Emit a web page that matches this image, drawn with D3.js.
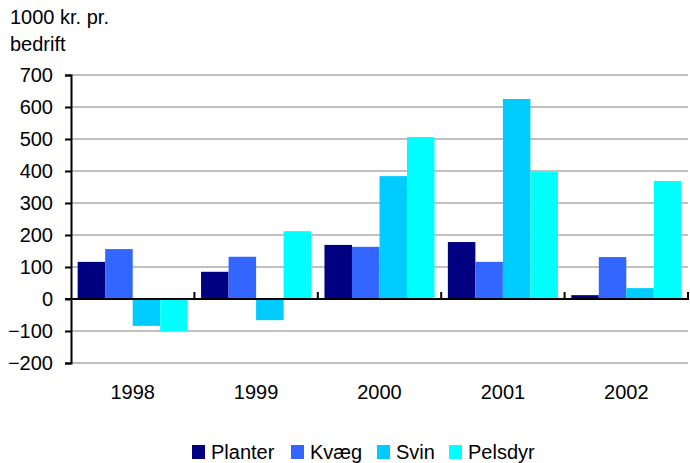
<!DOCTYPE html>
<html>
<head>
<meta charset="utf-8">
<script src="https://cdn.jsdelivr.net/npm/d3@7"></script>
<style>
  body { margin: 0; background: #fff; }
  svg { font-family: Arial, "Liberation Sans", sans-serif; }
</style>
</head>
<body>
<svg id="chart"></svg>
<script>
const width = 690;
const height = 463;

// data
const years = ["1998", "1999", "2000", "2001", "2002"];
const seriesNames = ["Planter", "Kvæg", "Svin", "Pelsdyr"];
const planter = [116, 85, 169, 178, 12];
const kvaeg = [156, 132, 163, 116, 131];
const svin = [-84, -66, 384, 625, 34];
const pelsdyr = [-100, 212, 506, 397, 369];
const yTicks = [700, 600, 500, 400, 300, 200, 100, 0, -100, -200];

const colors = ["#000080", "#3366ff", "#00ccff", "#00ffff"];
const values = [planter, kvaeg, svin, pelsdyr];

const margin = {top: 75, right: 2, bottom: 100, left: 71};
const fontSize = 20;

const svg = d3.select("#chart")
  .attr("width", width)
  .attr("height", height);

const x = d3.scaleBand()
  .domain(years)
  .range([margin.left, 688])
  .paddingInner(0.108)
  .paddingOuter(0.054);

const xGroup = d3.scaleBand()
  .domain(years)
  .range([margin.left, 688]);

const xInner = d3.scaleBand()
  .domain(seriesNames)
  .range([0, x.bandwidth()]);

const y = d3.scaleLinear()
  .domain([-200, 700])
  .range([363, 75]);

// gridlines
svg.append("g")
  .selectAll("line")
  .data(yTicks.filter(d => d !== 0))
  .join("line")
  .attr("x1", margin.left)
  .attr("x2", 688)
  .attr("y1", d => y(d))
  .attr("y2", d => y(d))
  .attr("stroke", "#c0c0c0")
  .attr("stroke-width", 2);

// bars
const groups = svg.append("g")
  .selectAll("g")
  .data(years)
  .join("g")
  .attr("transform", d => `translate(${x(d)},0)`);

groups.selectAll("rect")
  .data((yr, i) => seriesNames.map((s, j) => ({s, j, v: values[j][i]})))
  .join("rect")
  .attr("x", d => xInner(d.s))
  .attr("width", xInner.bandwidth())
  .attr("y", d => y(Math.max(0, d.v)))
  .attr("height", d => Math.abs(y(d.v) - y(0)))
  .attr("fill", d => colors[d.j]);

// y axis
const yAxis = svg.append("g")
  .attr("transform", `translate(${margin.left},0)`)
  .call(d3.axisLeft(y).tickValues(yTicks).tickSize(6).tickPadding(12).tickFormat(d3.format("d")));
yAxis.select(".domain").attr("stroke", "#000").attr("stroke-width", 2);
yAxis.selectAll(".tick line").attr("stroke", "#000").attr("stroke-width", 2);
yAxis.selectAll("text").attr("font-size", fontSize).attr("fill", "#000");

// x axis at zero
svg.append("line")
  .attr("x1", margin.left - 6)
  .attr("x2", 688)
  .attr("y1", y(0))
  .attr("y2", y(0))
  .attr("stroke", "#000")
  .attr("stroke-width", 2);

svg.append("g")
  .selectAll("line")
  .data(years)
  .join("line")
  .attr("x1", d => xGroup(d) + xGroup.step())
  .attr("x2", d => xGroup(d) + xGroup.step())
  .attr("y1", y(0) - 7)
  .attr("y2", y(0) + 1)
  .attr("stroke", "#000")
  .attr("stroke-width", 2);

// category labels
svg.append("g")
  .selectAll("text")
  .data(years)
  .join("text")
  .attr("x", d => xGroup(d) + xGroup.bandwidth() / 2)
  .attr("y", 399)
  .attr("text-anchor", "middle")
  .attr("font-size", fontSize)
  .text(d => d);

// unit label
svg.append("text")
  .attr("x", 10).attr("y", 24)
  .attr("font-size", fontSize)
  .text("1000 kr. pr.");
svg.append("text")
  .attr("x", 10).attr("y", 51)
  .attr("font-size", fontSize)
  .text("bedrift");

// legend
const legendX = [192, 291, 377, 449];
const legend = svg.append("g")
  .selectAll("g")
  .data(seriesNames)
  .join("g")
  .attr("transform", (d, i) => `translate(${legendX[i]},445)`);
legend.append("rect")
  .attr("width", 13).attr("height", 14)
  .attr("fill", (d, i) => colors[i]);
legend.append("text")
  .attr("x", 19).attr("y", 13.5)
  .attr("font-size", fontSize)
  .text(d => d);
</script>
</body>
</html>
